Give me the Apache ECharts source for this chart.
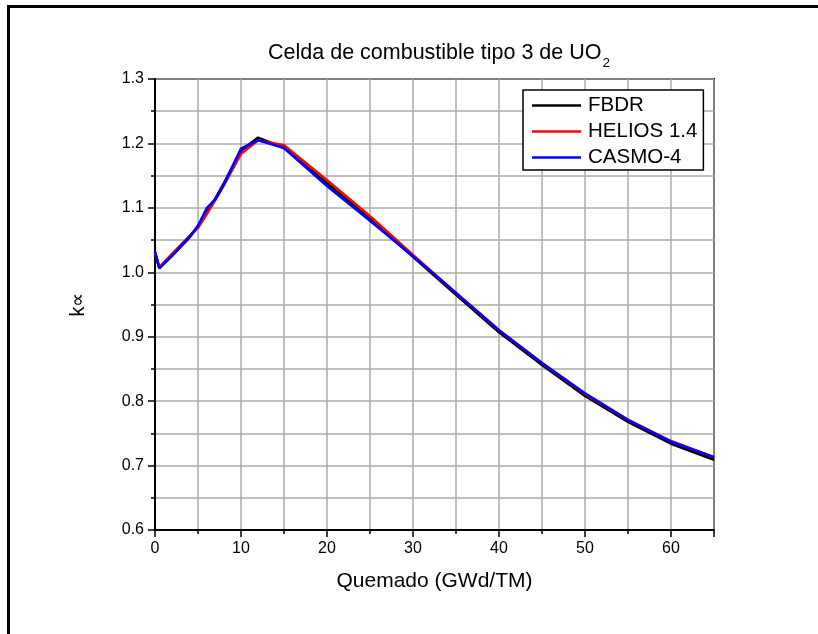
<!DOCTYPE html>
<html>
<head>
<meta charset="utf-8">
<script src="https://cdn.jsdelivr.net/npm/echarts@6/dist/echarts.min.js"></script>
<style>
  html, body { margin: 0; padding: 0; background: #fff; }
  #chart { width: 818px; height: 634px; }
</style>
</head>
<body>
<div id="chart"></div>
<script>
// Burnup steps (GWd/TM) and k-infinity from the three codes
const burnup = [0, 0.5, 2, 4, 5, 6, 7, 8, 10, 12, 15, 20, 25, 30, 35, 40, 45, 50, 55, 60, 65];
const fbdr   = [1.030, 1.007, 1.026, 1.054, 1.071, 1.094, 1.114, 1.138, 1.189, 1.209, 1.193, 1.138, 1.083, 1.024, 0.965, 0.907, 0.856, 0.808, 0.768, 0.734, 0.709];
const helios = [1.030, 1.008, 1.029, 1.056, 1.069, 1.090, 1.112, 1.135, 1.184, 1.205, 1.197, 1.143, 1.087, 1.027, 0.968, 0.910, 0.859, 0.811, 0.771, 0.738, 0.713];
const casmo  = [1.032, 1.006, 1.026, 1.055, 1.072, 1.099, 1.113, 1.136, 1.192, 1.205, 1.193, 1.134, 1.080, 1.025, 0.968, 0.910, 0.859, 0.812, 0.771, 0.737, 0.713];

const seriesNames = ['FBDR', 'HELIOS 1.4', 'CASMO-4'];
const seriesColors = ['#000000', '#ff0000', '#0000ff'];
const xTickLabels = [0, 10, 20, 30, 40, 50, 60];

const FONT = '"Liberation Sans", Arial, sans-serif';
const pairs = ys => burnup.map((x, i) => [x, ys[i]]);

const chart = echarts.init(document.getElementById('chart'), null, { renderer: 'canvas' });

const gridLine = { show: true, lineStyle: { color: '#ababab', width: 1.5 } };

chart.setOption({
  animation: false,
  backgroundColor: '#ffffff',
  title: {
    text: 'Celda de combustible tipo 3 de UO{s|2}',
    left: 434,
    top: 31,
    textAlign: 'center',
    textStyle: {
      fontFamily: FONT, fontSize: 21.5, fontWeight: 'normal', color: '#000', lineHeight: 34,
      rich: { s: { fontFamily: FONT, fontSize: 13.5, verticalAlign: 'bottom', color: '#000', padding: [0, 0, 0, 1] } }
    }
  },
  grid: {
    left: 155, right: 104, top: 79, bottom: 104,
    show: true, borderColor: '#000', borderWidth: 2, backgroundColor: 'transparent'
  },
  legend: {
    orient: 'vertical',
    left: 523, top: 90,
    padding: [5, 6, 2, 9],
    icon: 'rect',
    itemWidth: 49, itemHeight: 2.5, itemGap: 5,
    backgroundColor: '#fff',
    borderColor: '#000', borderWidth: 1.5,
    textStyle: { fontFamily: FONT, fontSize: 20.5, color: '#000', padding: [0, 0, 0, 2] },
    data: seriesNames
  },
  xAxis: [
    {
      type: 'value', min: 0, max: 65, interval: 5,
      name: 'Quemado (GWd/TM)', nameLocation: 'middle', nameGap: 41,
      nameTextStyle: { fontFamily: FONT, fontSize: 21, color: '#000' },
      axisLine: { show: true, onZero: false, lineStyle: { color: '#000', width: 2 } },
      axisTick: { show: true, length: 4, lineStyle: { color: '#000', width: 1.5 } },
      axisLabel: {
        fontFamily: FONT, fontSize: 16, color: '#000', margin: 11,
        formatter: v => (xTickLabels.indexOf(v) >= 0 ? String(v) : '')
      },
      splitLine: gridLine
    },
    {
      type: 'value', min: 0, max: 65, interval: 10, position: 'bottom', offset: 0,
      axisLine: { show: false },
      axisTick: { show: true, length: 7, lineStyle: { color: '#000', width: 1.5 } },
      axisLabel: { show: false },
      splitLine: { show: false }
    }
  ],
  yAxis: {
    type: 'value', min: 0.6, max: 1.3, interval: 0.1,
    name: 'k\u221D', nameLocation: 'middle', nameGap: 67, nameRotate: 90,
    nameTextStyle: { fontFamily: FONT, fontSize: 20, color: '#000' },
    axisLine: { show: true, onZero: false, lineStyle: { color: '#000', width: 2 } },
    axisTick: { show: true, length: 7, lineStyle: { color: '#000', width: 1.5 } },
    minorTick: { show: true, splitNumber: 2, length: 4, lineStyle: { color: '#000', width: 1.5 } },
    axisLabel: {
      fontFamily: FONT, fontSize: 16, color: '#000', margin: 11,
      formatter: v => v.toFixed(1)
    },
    splitLine: gridLine,
    minorSplitLine: gridLine
  },
  series: [fbdr, helios, casmo].map((ys, i) => ({
    name: seriesNames[i],
    type: 'line',
    xAxisIndex: 0,
    data: pairs(ys),
    symbol: 'none',
    color: seriesColors[i],
    lineStyle: { color: seriesColors[i], width: 2.6 },
    z: 3 + i
  })),
  graphic: [
    { type: 'rect', shape: { x: 7, y: 5, width: 811, height: 3 }, style: { fill: '#000' }, silent: true },
    { type: 'rect', shape: { x: 7, y: 5, width: 3, height: 629 }, style: { fill: '#000' }, silent: true }
  ]
});
</script>
</body>
</html>
